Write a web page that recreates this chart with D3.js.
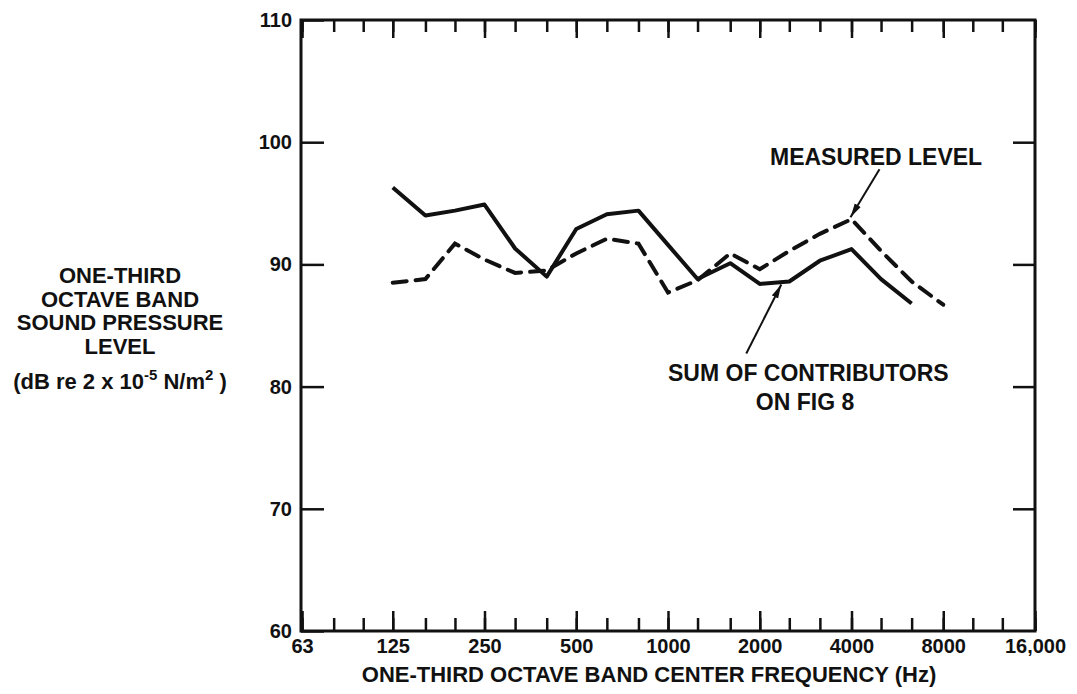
<!DOCTYPE html>
<html>
  <head>
    <meta charset="UTF-8" />
    <style>
      body { margin: 0; background: #fff; }
      svg { display: block; }
      text { font-family: "Liberation Sans", Arial, sans-serif; font-weight: bold; fill: #111; }
      .tick text { font-size: 20px; }
    </style>
  </head>
  <body>
    <svg></svg>
    <script src="https://d3js.org/d3.v7.min.js"></script>
    <script>
      let width = 1077,
        height = 694;

      // one-third octave band centers (Hz)
      let freqs = [125, 160, 200, 250, 315, 400, 500, 630, 800, 1000, 1250, 1600, 2000, 2500, 3150, 4000, 5000, 6300, 8000];
      // sum of contributors (solid), dB
      let sumLevel = [96.3, 94.0, 94.4, 94.9, 91.3, 89.0, 92.9, 94.1, 94.4, 91.6, 88.8, 90.1, 88.4, 88.6, 90.3, 91.25, 88.8, 86.8];
      // measured level (dashed), dB
      let measuredLevel = [88.5, 88.8, 91.7, 90.4, 89.3, 89.5, 90.9, 92.1, 91.7, 87.7, 88.7, 90.9, 89.6, 91.1, 92.5, 93.7, 91.1, 88.6, 86.7];

      // axis ticks
      let thirdOctaveTicks = [63, 80, 100, 125, 160, 200, 250, 315, 400, 500, 630, 800, 1000, 1250, 1600, 2000, 2500, 3150, 4000, 5000, 6300, 8000, 10000, 12500, 16000];
      let octaveTicks = [63, 125, 250, 500, 1000, 2000, 4000, 8000, 16000];
      let octaveLabels = ["63", "125", "250", "500", "1000", "2000", "4000", "8000", "16,000"];
      let yTicks = [60, 70, 80, 90, 100, 110];

      let svg = d3.select("svg").attr("width", width).attr("height", height);

      let plotLeft = 301, plotRight = 1035, plotTop = 20, plotBottom = 631;

      let x = d3.scaleLog().base(2).domain([62.5, 16000]).range([plotLeft, plotRight]);
      let y = d3.scaleLinear().domain([60, 110]).range([plotBottom, plotTop]);

      // minor (third-octave) ticks, bottom and top
      svg.append("g")
        .attr("transform", `translate(0,${plotBottom})`)
        .call(d3.axisBottom(x).tickValues(thirdOctaveTicks).tickSize(-13).tickFormat(""));
      svg.append("g")
        .attr("transform", `translate(0,${plotTop})`)
        .call(d3.axisTop(x).tickValues(thirdOctaveTicks).tickSize(-12).tickFormat(""));

      // octave ticks with labels
      svg.append("g")
        .attr("transform", `translate(0,${plotBottom})`)
        .call(d3.axisBottom(x).tickValues(octaveTicks).tickSize(-20).tickPadding(8)
          .tickFormat((d, i) => octaveLabels[i]));
      svg.append("g")
        .attr("transform", `translate(0,${plotTop})`)
        .call(d3.axisTop(x).tickValues(octaveTicks).tickSize(-18).tickFormat(""));

      // y ticks, both sides pointing in
      svg.append("g")
        .attr("transform", `translate(${plotLeft},0)`)
        .call(d3.axisLeft(y).tickValues(yTicks).tickSize(-23).tickPadding(9));
      svg.append("g")
        .attr("transform", `translate(${plotRight},0)`)
        .call(d3.axisRight(y).tickValues(yTicks.slice(1, -1)).tickSize(-22).tickFormat(""));

      svg.selectAll(".domain").remove();
      svg.selectAll(".tick line").attr("stroke", "#111").attr("stroke-width", 2.5);
      svg.selectAll(".tick text").attr("fill", "#111");

      // frame
      svg.append("rect")
        .attr("x", plotLeft).attr("y", plotTop)
        .attr("width", plotRight - plotLeft).attr("height", plotBottom - plotTop)
        .attr("fill", "none").attr("stroke", "#111").attr("stroke-width", 3);

      let line = d3.line().x((d) => x(d[0])).y((d) => y(d[1]));

      svg.append("path")
        .datum(sumLevel.map((v, i) => [freqs[i], v]))
        .attr("d", line)
        .attr("fill", "none").attr("stroke", "#111")
        .attr("stroke-width", 4).attr("stroke-linejoin", "round");

      svg.append("path")
        .datum(measuredLevel.map((v, i) => [freqs[i], v]))
        .attr("d", line)
        .attr("fill", "none").attr("stroke", "#111")
        .attr("stroke-width", 4).attr("stroke-dasharray", "14,9")
        .attr("stroke-linecap", "round");

      // arrowheads
      svg.append("defs").append("marker")
        .attr("id", "arrow")
        .attr("viewBox", "0 -4 14 8")
        .attr("refX", 14).attr("refY", 0)
        .attr("markerWidth", 14).attr("markerHeight", 8)
        .attr("markerUnits", "userSpaceOnUse")
        .attr("orient", "auto")
        .append("path").attr("d", "M0,-3.5L14,0L0,3.5Z").attr("fill", "#111");

      // MEASURED LEVEL label + arrow to the 4000 Hz point
      let mx = x(4000), my = y(measuredLevel[freqs.indexOf(4000)]);
      svg.append("line")
        .attr("x1", mx + 28).attr("y1", my - 50)
        .attr("x2", mx - 1).attr("y2", my - 2)
        .attr("stroke", "#111").attr("stroke-width", 2)
        .attr("marker-end", "url(#arrow)");
      svg.append("text").attr("x", 770).attr("y", 165)
        .style("font-size", "23px").text("MEASURED LEVEL");

      // SUM OF CONTRIBUTORS label + arrow to the 2500 Hz point
      let sx = x(2500), sy = y(sumLevel[freqs.indexOf(2500)]);
      svg.append("line")
        .attr("x1", sx - 43).attr("y1", sy + 72)
        .attr("x2", sx - 8).attr("y2", sy + 3)
        .attr("stroke", "#111").attr("stroke-width", 2)
        .attr("marker-end", "url(#arrow)");
      svg.append("text").attr("x", 668).attr("y", 381)
        .style("font-size", "23px").text("SUM OF CONTRIBUTORS");
      svg.append("text").attr("x", 805).attr("y", 410).attr("text-anchor", "middle")
        .style("font-size", "23px").text("ON FIG 8");

      // axis titles
      svg.append("text").attr("x", 649).attr("y", 682).attr("text-anchor", "middle")
        .style("font-size", "22px").text("ONE-THIRD OCTAVE BAND CENTER FREQUENCY (Hz)");

      let yTitle = ["ONE-THIRD", "OCTAVE BAND", "SOUND PRESSURE", "LEVEL"];
      svg.append("g").selectAll("text")
        .data(yTitle)
        .join("text")
        .attr("x", 120)
        .attr("y", (d, i) => 283 + i * 23.5)
        .attr("text-anchor", "middle")
        .style("font-size", "22px")
        .text((d) => d);

      let unit = svg.append("text").attr("x", 120).attr("y", 389)
        .attr("text-anchor", "middle").style("font-size", "22px");
      unit.append("tspan").text("(dB re 2 x 10");
      unit.append("tspan").attr("dy", -9).style("font-size", "15px").text("-5");
      unit.append("tspan").attr("dy", 9).text(" N/m");
      unit.append("tspan").attr("dy", -9).style("font-size", "15px").text("2");
      unit.append("tspan").attr("dy", 9).text(" )");
    </script>
  </body>
</html>
